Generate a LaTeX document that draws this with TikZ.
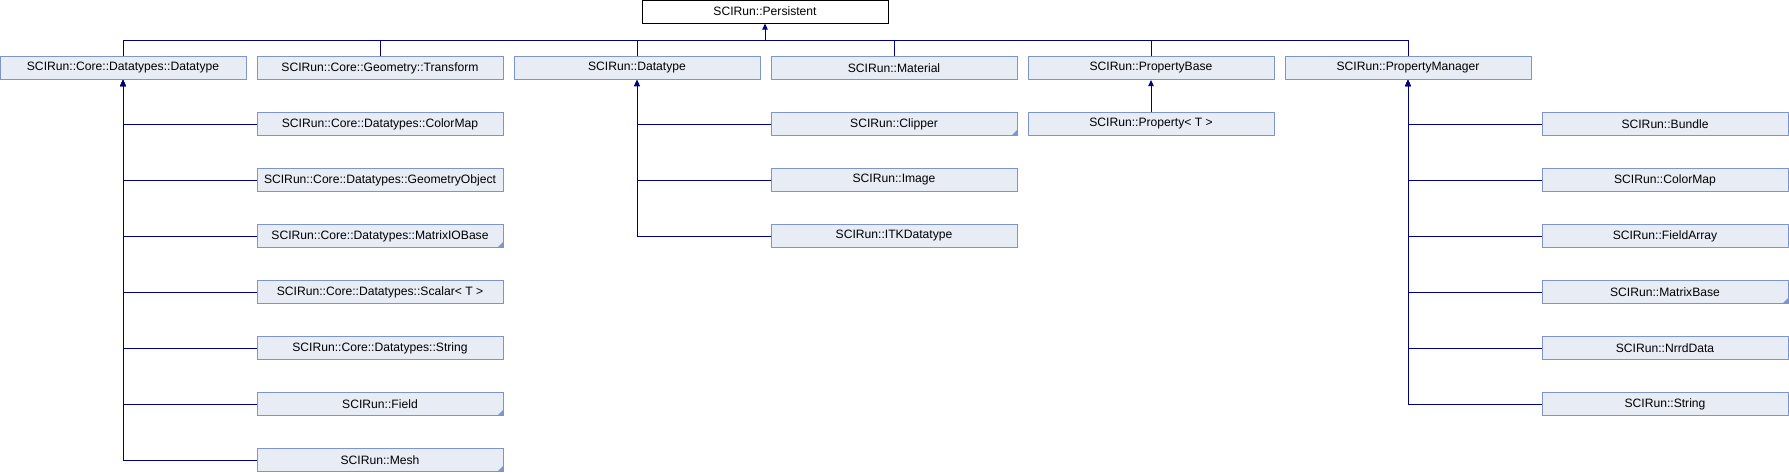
\documentclass[tikz,border=0pt]{standalone}
\usepackage{fontspec}
\setmainfont{Liberation Sans}
\usetikzlibrary{arrows.meta}
\definecolor{boxfill}{RGB}{232,236,245}
\definecolor{boxline}{RGB}{125,148,204}
\definecolor{linkblue}{RGB}{0,0,128}
\tikzstyle{classbox} = [rectangle, minimum width=184.5pt, minimum height=17.25pt, inner sep=0pt, text centered, draw=boxline, fill=boxfill, line width=0.75pt]
\tikzstyle{rootbox} = [classbox, draw=black, fill=white]
\tikzstyle{more} = [path picture={\fill[boxline] (path picture bounding box.south east) -- ++(-4pt,0) -- ++(4pt,4pt) -- cycle;}]
\tikzstyle{arrow} = [draw=linkblue, line width=0.75pt, -{Triangle[width=4pt,length=4.5pt]}]
\tikzstyle{link} = [draw=linkblue, line width=0.75pt]

\begin{document}
\begin{tikzpicture}[x=0.75pt, y=-0.75pt, font=\fontsize{9.1pt}{11pt}\selectfont]
    \useasboundingbox (0,0) rectangle (1789,472);
    % Nodes
    \node (persist) [rootbox] at (765,11.5) {SCIRun::Persistent};
    \coordinate (bus) at (765,40);
    \node (cdt) [classbox] at (123,68) {SCIRun::Core::Datatypes::Datatype};
    \node (trans) [classbox] at (380,68) {SCIRun::Core::Geometry::Transform};
    \node (dtype) [classbox] at (637,68) {SCIRun::Datatype};
    \node (mat) [classbox] at (894,68) {SCIRun::Material};
    \node (pbase) [classbox] at (1151,68) {SCIRun::PropertyBase};
    \node (pman) [classbox] at (1408,68) {SCIRun::PropertyManager};

    \node (ccmap) [classbox] at (380,124) {SCIRun::Core::Datatypes::ColorMap};
    \node (geom) [classbox] at (380,180) {SCIRun::Core::Datatypes::GeometryObject};
    \node (mio) [classbox, more] at (380,236) {SCIRun::Core::Datatypes::MatrixIOBase};
    \node (scalar) [classbox] at (380,292) {SCIRun::Core::Datatypes::Scalar< T >};
    \node (cstr) [classbox] at (380,348) {SCIRun::Core::Datatypes::String};
    \node (field) [classbox, more] at (380,404) {SCIRun::Field};
    \node (mesh) [classbox, more] at (380,460) {SCIRun::Mesh};

    \node (clip) [classbox, more] at (894,124) {SCIRun::Clipper};
    \node (image) [classbox] at (894,180) {SCIRun::Image};
    \node (itk) [classbox] at (894,236) {SCIRun::ITKDatatype};

    \node (prop) [classbox] at (1151,124) {SCIRun::Property< T >};

    \node (bundle) [classbox] at (1665,124) {SCIRun::Bundle};
    \node (cmap) [classbox] at (1665,180) {SCIRun::ColorMap};
    \node (farr) [classbox] at (1665,236) {SCIRun::FieldArray};
    \node (mbase) [classbox, more] at (1665,292) {SCIRun::MatrixBase};
    \node (nrrd) [classbox] at (1665,348) {SCIRun::NrrdData};
    \node (str) [classbox] at (1665,404) {SCIRun::String};

    % Arrows
    \draw [arrow] (bus) -- (persist);
    \draw [link] (cdt.north) |- (bus);
    \draw [link] (trans.north) |- (bus);
    \draw [link] (dtype.north) |- (bus);
    \draw [link] (mat.north) |- (bus);
    \draw [link] (pbase.north) |- (bus);
    \draw [link] (pman.north) |- (bus);

    \draw [arrow] (ccmap.west) -| (cdt);
    \draw [arrow] (geom.west) -| (cdt);
    \draw [arrow] (mio.west) -| (cdt);
    \draw [arrow] (scalar.west) -| (cdt);
    \draw [arrow] (cstr.west) -| (cdt);
    \draw [arrow] (field.west) -| (cdt);
    \draw [arrow] (mesh.west) -| (cdt);

    \draw [arrow] (clip.west) -| (dtype);
    \draw [arrow] (image.west) -| (dtype);
    \draw [arrow] (itk.west) -| (dtype);

    \draw [arrow] (prop) -- (pbase);

    \draw [arrow] (bundle.west) -| (pman);
    \draw [arrow] (cmap.west) -| (pman);
    \draw [arrow] (farr.west) -| (pman);
    \draw [arrow] (mbase.west) -| (pman);
    \draw [arrow] (nrrd.west) -| (pman);
    \draw [arrow] (str.west) -| (pman);
\end{tikzpicture}
\end{document}
